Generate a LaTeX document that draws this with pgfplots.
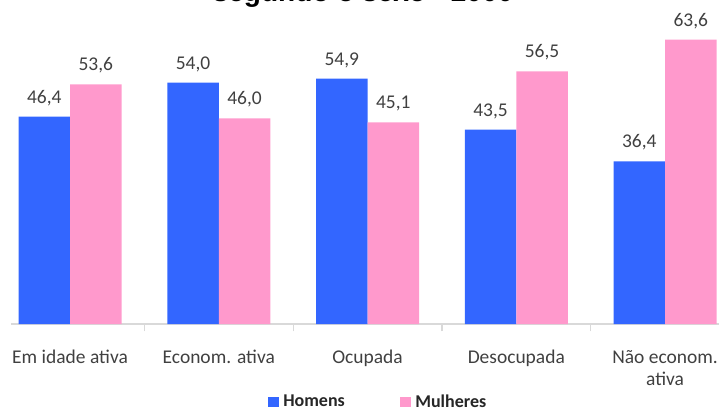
\documentclass[border=0pt]{standalone}
\usepackage{fontspec}
\setmainfont{Carlito}
\newfontfamily\titlefont{Liberation Sans}
\usepackage{pgfplots}
\pgfplotsset{compat=1.18}

\definecolor{homens}{HTML}{3366FF}
\definecolor{mulheres}{HTML}{FF99CC}
\definecolor{labelgray}{HTML}{404040}
\definecolor{axisgray}{HTML}{D9D9D9}

\begin{document}
\begin{tikzpicture}
% chart title (its upper part lies above the page)
\node[anchor=base, font={\titlefont\bfseries\fontsize{21pt}{25pt}\selectfont}, inner sep=0pt]
  at (272.25pt,-0.9pt) {segundo o sexo - 2000};

\begin{axis}[
  at={(8.25pt,-243pt)}, anchor=south west,
  x=111.5625pt, y=3.3525pt,
  xmin=-0.397, xmax=4.5, ymin=0, ymax=70,
  ybar=0pt, bar width=38.6pt,
  clip=false,
  axis y line=none,
  axis x line*=bottom,
  x axis line style={draw=axisgray, line width=1.1pt},
  xtick={0,1,2,3,4},
  xticklabels={Em idade ativa, Econom. ativa, Ocupada, Desocupada, {Não econom.\\ativa}},
  major tick length=0pt,
  typeset ticklabels with strut,
  xticklabel style={font={\fontsize{14.6pt}{16.5pt}\selectfont}, text=labelgray,
    align=center, inner sep=0pt, anchor=north, yshift=-17.7pt},
  extra x ticks={0.5,1.5,2.5,3.5},
  extra x tick labels={},
  extra x tick style={major tick length=5.5pt, tick align=outside,
    tick style={draw=axisgray, line width=0.9pt}},
  /pgf/number format/.cd, fixed, fixed zerofill, precision=1, use comma,
    1000 sep={}, assume math mode=true,
  /pgfplots/.cd,
  nodes near coords,
  every node near coord/.append style={font={\fontsize{14.6pt}{17pt}\selectfont},
    text=labelgray, anchor=base, inner sep=0pt, yshift=10.1pt},
  legend columns=2,
  legend style={draw=none, fill=none, inner sep=0pt,
    at={(axis description cs:0.3528,-0.2493)}, anchor=west,
    font={\bfseries\fontsize{13.5pt}{16pt}\selectfont}, text=black!85,
    nodes={inner xsep=3pt, inner ysep=0pt},
    /tikz/every even column/.append style={column sep=38.5pt}},
  legend image code/.code={\fill[#1] (0pt,-4.1pt) rectangle (8.3pt,4.1pt);},
]
\addplot[fill=homens, draw=none] coordinates
  {(0,46.4) (1,54.0) (2,54.9) (3,43.5) (4,36.4)};
\addplot[fill=mulheres, draw=none] coordinates
  {(0,53.6) (1,46.0) (2,45.1) (3,56.5) (4,63.6)};
\legend{Homens, Mulheres}
\end{axis}

\pgfresetboundingbox
\useasboundingbox (0,0) rectangle (539.25pt,-307.5pt);
\end{tikzpicture}
\end{document}
